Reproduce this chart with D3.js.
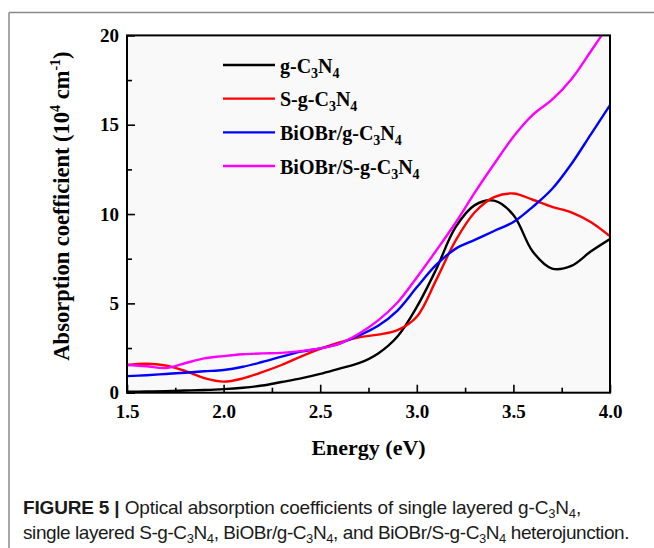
<!DOCTYPE html>
<html>
<head>
<meta charset="utf-8">
<script src="https://cdn.jsdelivr.net/npm/d3@7/dist/d3.min.js"></script>
<style>
  html, body { margin: 0; padding: 0; background: #fff; }
  svg { display: block; }
</style>
</head>
<body>
<svg id="chart" width="654" height="548"></svg>
<script>
// ---------------- data ----------------
const energy = [1.5,1.6,1.7,1.8,1.9,2.0,2.1,2.2,2.3,2.4,2.5,2.6,2.7,2.8,2.9,3.0,3.1,3.2,3.3,3.4,3.5,3.6,3.7,3.8,3.9,4.0];
const gC3N4 =       [0.05,0.07,0.09,0.12,0.15,0.20,0.28,0.40,0.60,0.80,1.05,1.35,1.65,2.20,3.15,4.80,6.90,9.25,10.50,10.75,9.95,7.90,6.95,7.10,7.90,8.60];
const SgC3N4 =      [1.55,1.62,1.52,1.22,0.82,0.62,0.80,1.15,1.55,2.02,2.45,2.82,3.10,3.25,3.50,4.25,6.30,8.50,10.10,10.95,11.15,10.80,10.40,10.10,9.55,8.75];
const BiOBr_gC3N4 = [0.93,0.98,1.05,1.12,1.20,1.27,1.45,1.72,2.02,2.30,2.48,2.75,3.20,3.75,4.60,5.90,7.15,8.05,8.55,9.05,9.55,10.40,11.40,12.80,14.45,16.10];
const BiOBr_SgC3N4 =[1.55,1.48,1.38,1.65,1.92,2.05,2.15,2.20,2.23,2.33,2.48,2.75,3.30,4.05,5.05,6.45,7.95,9.50,11.20,12.80,14.33,15.55,16.40,17.55,19.10,20.70];

const seriesNames = ["g-C_3N_4", "S-g-C_3N_4", "BiOBr/g-C_3N_4", "BiOBr/S-g-C_3N_4"];
const seriesValues = [gC3N4, SgC3N4, BiOBr_gC3N4, BiOBr_SgC3N4];
const seriesColors = ["#000000", "#ff0000", "#0000ff", "#ff00ff"];

const xMajorTicks = [1.5, 2.0, 2.5, 3.0, 3.5, 4.0];
const xMinorTicks = [1.75, 2.25, 2.75, 3.25, 3.75];
const yMajorTicks = [0, 5, 10, 15, 20];
const yMinorTicks = [2.5, 7.5, 12.5, 17.5];

const xTitle = "Energy (eV)";
const captionLine1 = [["FIGURE 5 | ", true], ["Optical absorption coefficients of single layered g-C_3N_4,", false]];
const captionLine2 = [["single layered S-g-C_3N_4, BiOBr/g-C_3N_4, and BiOBr/S-g-C_3N_4 heterojunction.", false]];

// ---------------- layout ----------------
const svg = d3.select("#chart");
const L = 127, R = 610, T = 35.4, B = 392.7;
const x = d3.scaleLinear().domain([1.5, 4.0]).range([L, R]);
const y = d3.scaleLinear().domain([0, 20]).range([B, T]);
const serif = "'Liberation Serif','Times New Roman',serif";
const sans = "'Liberation Sans',Arial,Helvetica,sans-serif";

// outer border lines (figure frame)
svg.append("line").attr("x1", 9).attr("x2", 654).attr("y1", 12.5).attr("y2", 12.5)
  .attr("stroke", "#8a8a8a").attr("stroke-width", 1.5);
svg.append("line").attr("x1", 9).attr("x2", 9).attr("y1", 12.5).attr("y2", 548)
  .attr("stroke", "#8a8a8a").attr("stroke-width", 1.5);

// plot background
svg.append("rect").attr("x", L).attr("y", T).attr("width", R - L).attr("height", B - T)
  .attr("fill", "#f9f9f9");

// helper: text with subscripts (markup: "_3" => subscript 3)
function richText(sel, str, subSize, shift) {
  const parts = str.split(/(_\d)/).filter(p => p);
  let pending = 0;
  parts.forEach(p => {
    if (p[0] === "_") {
      sel.append("tspan").attr("font-size", subSize).attr("dy", shift + pending).text(p.slice(1));
      pending = -shift;
    } else {
      const ts = sel.append("tspan").text(p);
      if (pending) ts.attr("dy", pending);
      pending = 0;
    }
  });
}

// clip
svg.append("clipPath").attr("id", "clip").append("rect")
  .attr("x", L).attr("y", T).attr("width", R - L).attr("height", B - T);

// curves
const line = d3.line()
  .x((d, i) => x(energy[i]))
  .y(d => y(d))
  .curve(d3.curveCatmullRom.alpha(0.5));

const gLines = svg.append("g").attr("clip-path", "url(#clip)");
seriesValues.forEach((vals, k) => {
  gLines.append("path").datum(vals)
    .attr("d", line)
    .attr("fill", "none")
    .attr("stroke", seriesColors[k])
    .attr("stroke-width", 2.4)
    .attr("stroke-linejoin", "round");
});

// axes
const axisFont = g => g.selectAll("text")
  .attr("font-family", serif).attr("font-weight", "bold").attr("font-size", 19).attr("fill", "#000");

const xAxis = svg.append("g").attr("transform", `translate(0,${B})`)
  .call(d3.axisBottom(x).tickValues(xMajorTicks).tickFormat(d3.format(".1f"))
    .tickSizeInner(-8).tickSizeOuter(0).tickPadding(12));
xAxis.call(axisFont);
xAxis.select(".domain").remove();
xAxis.selectAll("line").attr("stroke", "#000").attr("stroke-width", 1.6);

const xMinor = svg.append("g").attr("transform", `translate(0,${B})`)
  .call(d3.axisBottom(x).tickValues(xMinorTicks).tickFormat("").tickSizeInner(-5).tickSizeOuter(0));
xMinor.select(".domain").remove();
xMinor.selectAll("text").remove();
xMinor.selectAll("line").attr("stroke", "#000").attr("stroke-width", 1.6);

const yAxis = svg.append("g").attr("transform", `translate(${L},0)`)
  .call(d3.axisLeft(y).tickValues(yMajorTicks).tickFormat(d3.format("d"))
    .tickSizeInner(-8).tickSizeOuter(0).tickPadding(8));
yAxis.call(axisFont);
yAxis.select(".domain").remove();
yAxis.selectAll("line").attr("stroke", "#000").attr("stroke-width", 1.6);

const yMinor = svg.append("g").attr("transform", `translate(${L},0)`)
  .call(d3.axisLeft(y).tickValues(yMinorTicks).tickFormat("").tickSizeInner(-5).tickSizeOuter(0));
yMinor.select(".domain").remove();
yMinor.selectAll("text").remove();
yMinor.selectAll("line").attr("stroke", "#000").attr("stroke-width", 1.6);

// frame
svg.append("rect").attr("x", L).attr("y", T).attr("width", R - L).attr("height", B - T)
  .attr("fill", "none").attr("stroke", "#000").attr("stroke-width", 2);

// axis titles
svg.append("text").attr("x", (L + R) / 2).attr("y", 455).attr("text-anchor", "middle")
  .attr("font-family", serif).attr("font-weight", "bold").attr("font-size", 22).text(xTitle);

const yt = svg.append("text").attr("transform", "translate(69,206) rotate(-90)")
  .attr("text-anchor", "middle")
  .attr("font-family", serif).attr("font-weight", "bold").attr("font-size", 22.5);
yt.append("tspan").text("Absorption coefficient (10");
yt.append("tspan").attr("font-size", 14).attr("dy", -9).text("4");
yt.append("tspan").attr("dy", 9).text(" cm");
yt.append("tspan").attr("font-size", 14).attr("dy", -9).text("-1");
yt.append("tspan").attr("dy", 9).text(")");

// legend
const legRowY = d3.scaleLinear().domain([0, 3]).range([65, 166]);
const legend = svg.append("g");
seriesNames.forEach((name, k) => {
  const yy = legRowY(k);
  legend.append("line").attr("x1", 223).attr("x2", 275).attr("y1", yy).attr("y2", yy)
    .attr("stroke", seriesColors[k]).attr("stroke-width", 2.4);
  const t = legend.append("text").attr("x", 280).attr("y", yy + 7.5)
    .attr("font-family", serif).attr("font-weight", "bold").attr("font-size", 20).attr("fill", "#000");
  richText(t, name, 14, 5);
});

// caption
function captionLine(parts, yy, targetW) {
  const t = svg.append("text").attr("x", 23).attr("y", yy)
    .attr("font-family", sans).attr("font-size", 19).attr("fill", "#1a1a1a");
  let carry = 0;
  parts.forEach(([str, bold]) => {
    const s = t.append("tspan").attr("font-weight", bold ? "bold" : "normal");
    richText(s, str, 13, 4);
  });
  const w = t.node().getComputedTextLength();
  const n = t.text().length;
  t.attr("letter-spacing", ((targetW - w) / n).toFixed(3));
  return t;
}
captionLine(captionLine1, 514, 558);
captionLine(captionLine2, 539, 606);
</script>
</body>
</html>
